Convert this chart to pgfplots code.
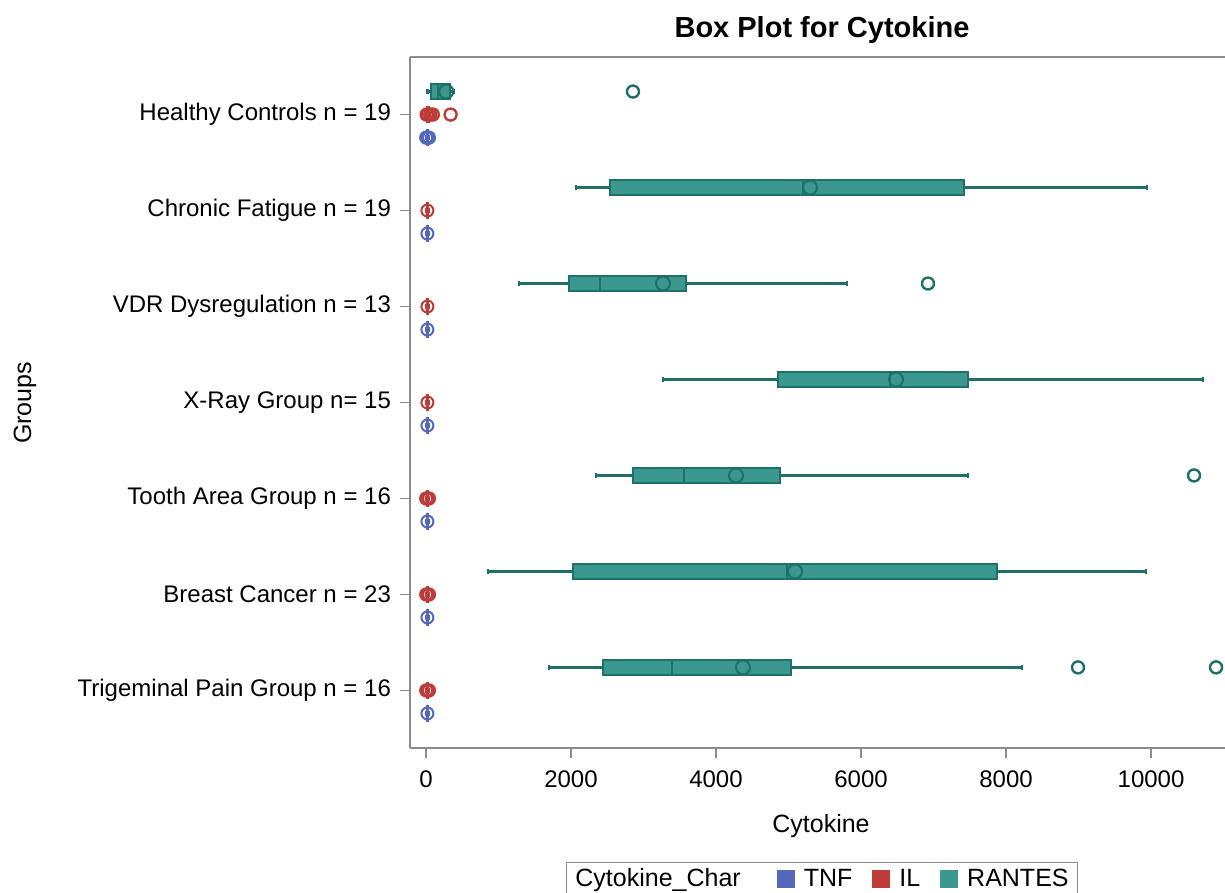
\documentclass[border=0pt]{standalone}
\usepackage{pgfplots}
\pgfplotsset{compat=1.18}
\usepgfplotslibrary{statistics}
\usepackage{fontspec}
\setmainfont{Liberation Sans}

\definecolor{tnf}{RGB}{84,104,190}
\definecolor{il}{RGB}{190,60,55}
\definecolor{rantes}{RGB}{58,152,142}
\definecolor{rantesline}{RGB}{30,112,105}
\definecolor{axisgray}{RGB}{140,140,140}

\pgfplotsset{
  rbox/.style={solid, draw=rantesline, fill=rantes, line width=0.8pt},
  ibox/.style={solid, draw=il, fill=il!70, line width=0.8pt},
  tbox/.style={solid, draw=tnf, fill=tnf!70, line width=0.8pt},
}

\begin{document}
\begin{tikzpicture}
\path[use as bounding box] (-205pt,-72.5pt) rectangle (407.5pt,374pt);
\begin{axis}[
  at={(0,0)}, anchor=south west,
  scale only axis, width=407.5pt, height=345.5pt,
  xmin=-220, xmax=11020, ymin=0.4, ymax=7.6,
  clip=false,
  axis x line*=bottom, axis y line*=left,
  axis line style={draw=axisgray, line width=0.8pt},
  tick style={draw=axisgray, line width=0.8pt},
  tick align=outside, major tick length=5pt,
  xtick={0,2000,4000,6000,8000,10000},
  scaled x ticks=false,
  /pgf/number format/1000 sep={},
  /pgf/number format/assume math mode=true,
  ytick={1,2,3,4,5,6,7},
  yticklabels={Trigeminal Pain Group n = 16, Breast Cancer n = 23, Tooth Area Group n = 16, X-Ray Group n= 15, VDR Dysregulation n = 13, Chronic Fatigue n = 19, Healthy Controls n = 19},
  ticklabel style={font=\fontsize{12}{14}\selectfont},
  xticklabel style={yshift=-3pt},
  yticklabel style={xshift=-1pt},
  boxplot/draw direction=x,
  boxplot/box extend=0.16,
  boxplot/whisker extend=0.06,
  boxplot/every whisker/.style={line width=1.2pt},
  boxplot/every median/.style={line width=1pt},
]
\draw[axisgray, line width=0.8pt] (rel axis cs:0,1) -- (rel axis cs:1,1);

% RANTES (position = group + 0.24)
\addplot[rbox, boxplot prepared={lower whisker=20, lower quartile=70, median=170, upper quartile=330, upper whisker=380, draw position=7.24}] coordinates {};
\addplot[rbox, boxplot prepared={lower whisker=2069, lower quartile=2538, median=5200, upper quartile=7421, upper whisker=9945, draw position=6.24}] coordinates {};
\addplot[rbox, boxplot prepared={lower whisker=1283, lower quartile=1972, median=2400, upper quartile=3586, upper whisker=5807, draw position=5.24}] coordinates {};
\addplot[rbox, boxplot prepared={lower whisker=3269, lower quartile=4855, median=6400, upper quartile=7476, upper whisker=10717, draw position=4.24}] coordinates {};
\addplot[rbox, boxplot prepared={lower whisker=2345, lower quartile=2855, median=3559, upper quartile=4883, upper whisker=7476, draw position=3.24}] coordinates {};
\addplot[rbox, boxplot prepared={lower whisker=855, lower quartile=2028, median=4979, upper quartile=7876, upper whisker=9931, draw position=2.24}] coordinates {};
\addplot[rbox, boxplot prepared={lower whisker=1697, lower quartile=2441, median=3393, upper quartile=5034, upper whisker=8221, draw position=1.24}] coordinates {};
% RANTES means
\addplot[only marks, mark=o, mark size=3.5pt, draw=rantesline, line width=1pt]
  coordinates {(280,7.24) (5297,6.24) (3269,5.24) (6483,4.24) (4276,3.24) (5090,2.24) (4372,1.24)};
% RANTES outliers
\addplot[only marks, mark=o, mark size=3pt, draw=rantesline, line width=1.2pt]
  coordinates {(2855,7.24) (6924,5.24) (10593,3.24) (8993,1.24) (10897,1.24)};

% IL (position = group)
\addplot[ibox, boxplot prepared={lower whisker=0, lower quartile=10, median=30, upper quartile=50, upper whisker=60, draw position=7}] coordinates {};
\addplot[ibox, boxplot prepared={lower whisker=0, lower quartile=5, median=15, upper quartile=30, upper whisker=45, draw position=6}] coordinates {};
\addplot[ibox, boxplot prepared={lower whisker=0, lower quartile=5, median=15, upper quartile=30, upper whisker=45, draw position=5}] coordinates {};
\addplot[ibox, boxplot prepared={lower whisker=0, lower quartile=5, median=15, upper quartile=30, upper whisker=45, draw position=4}] coordinates {};
\addplot[ibox, boxplot prepared={lower whisker=0, lower quartile=5, median=15, upper quartile=30, upper whisker=45, draw position=3}] coordinates {};
\addplot[ibox, boxplot prepared={lower whisker=0, lower quartile=5, median=15, upper quartile=30, upper whisker=45, draw position=2}] coordinates {};
\addplot[ibox, boxplot prepared={lower whisker=0, lower quartile=5, median=15, upper quartile=30, upper whisker=45, draw position=1}] coordinates {};
\addplot[only marks, mark=o, mark size=3pt, draw=il, line width=1pt]
  coordinates {(30,7) (20,6) (20,5) (20,4) (20,3) (20,2) (20,1)};
\addplot[only marks, mark=o, mark size=3pt, draw=il, line width=1.2pt]
  coordinates {(10,7) (60,7) (95,7) (340,7) (5,3) (40,3) (5,2) (40,2) (5,1) (40,1)};

% TNF (position = group - 0.24)
\addplot[tbox, boxplot prepared={lower whisker=0, lower quartile=5, median=15, upper quartile=30, upper whisker=45, draw position=6.76}] coordinates {};
\addplot[tbox, boxplot prepared={lower whisker=0, lower quartile=5, median=15, upper quartile=30, upper whisker=45, draw position=5.76}] coordinates {};
\addplot[tbox, boxplot prepared={lower whisker=0, lower quartile=5, median=15, upper quartile=30, upper whisker=45, draw position=4.76}] coordinates {};
\addplot[tbox, boxplot prepared={lower whisker=0, lower quartile=5, median=15, upper quartile=30, upper whisker=45, draw position=3.76}] coordinates {};
\addplot[tbox, boxplot prepared={lower whisker=0, lower quartile=5, median=15, upper quartile=30, upper whisker=45, draw position=2.76}] coordinates {};
\addplot[tbox, boxplot prepared={lower whisker=0, lower quartile=5, median=15, upper quartile=30, upper whisker=45, draw position=1.76}] coordinates {};
\addplot[tbox, boxplot prepared={lower whisker=0, lower quartile=5, median=15, upper quartile=30, upper whisker=45, draw position=0.76}] coordinates {};
\addplot[only marks, mark=o, mark size=3pt, draw=tnf, line width=1pt]
  coordinates {(20,6.76) (20,5.76) (20,4.76) (20,3.76) (20,2.76) (20,1.76) (20,0.76)};
\addplot[only marks, mark=o, mark size=3pt, draw=tnf, line width=1.2pt]
  coordinates {(5,6.76) (40,6.76)};
\end{axis}

\node[anchor=base, font=\fontsize{14.5}{17}\selectfont\bfseries] at (206pt,355pt) {Box Plot for Cytokine};
\node[anchor=base, font=\fontsize{12.5}{15}\selectfont] at (205.5pt,-42pt) {Cytokine};
\node[rotate=90, font=\fontsize{12.5}{15}\selectfont] at (-192.5pt,172.5pt) {Groups};
\node[draw=axisgray, anchor=north west, inner xsep=4.5pt, inner ysep=3pt, font=\fontsize{12.5}{15}\selectfont] at (78pt,-57pt)
  {Cytokine\_Char\hspace{18pt}\textcolor{tnf}{\rule[-0.5pt]{9pt}{9pt}}\hspace{4.5pt}TNF\hspace{10pt}\textcolor{il}{\rule[-0.5pt]{9pt}{9pt}}\hspace{4.5pt}IL\hspace{10pt}\textcolor{rantes}{\rule[-0.5pt]{9pt}{9pt}}\hspace{4.5pt}RANTES};
\end{tikzpicture}
\end{document}
